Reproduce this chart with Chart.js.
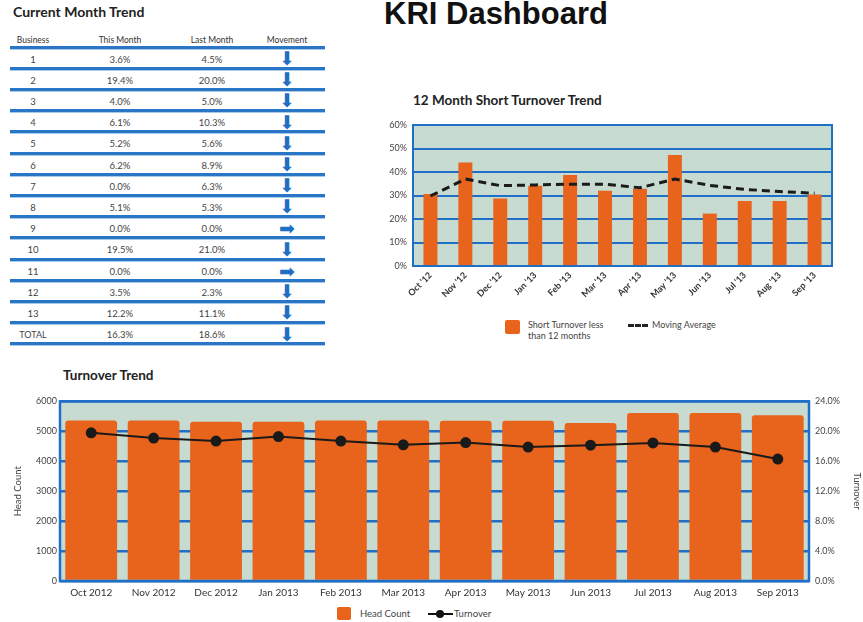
<!DOCTYPE html>
<html>
<head>
<meta charset="utf-8">
<title>KRI Dashboard</title>
<script src="https://cdn.jsdelivr.net/npm/chart.js@4/dist/chart.umd.min.js"></script>
<style>
  body { margin:0; width:863px; height:622px; background:#fff; position:relative; overflow:hidden;
         font-family:Lato,"Open Sans",sans-serif; color:#333; }
  .abs { position:absolute; white-space:nowrap; }
  .title { font-weight:bold; font-size:13.5px; line-height:1; color:#222; }
  #main { left:384px; top:-2px; font:bold 31px/31px "Liberation Sans",Arial,sans-serif; color:#111; }
  .cell { position:absolute; width:70px; margin-left:-35px; text-align:center; font-size:9.5px; color:#444; }
  .row { position:absolute; left:10px; width:315px; border-top:3px solid #2a76c6; box-shadow:0 1px 0 #a9c9e8; }
  .arrow { position:absolute; width:30px; margin-left:-15px; text-align:center; color:#1f6fc2;
           font-family:"DejaVu Sans",sans-serif; }
  .lg { font-size:9px; color:#444; line-height:11px; }
  .swatch { position:absolute; background:#e8631b; border-radius:2px; }
</style>
</head>
<body>
<div class="abs title" style="left:13px;top:5px;font-size:14px;">Current Month Trend</div>
<div class="abs" id="main">KRI Dashboard</div>
<div id="table"></div>

<div class="abs title" style="left:413px;top:94px;">12 Month Short Turnover Trend</div>
<canvas id="shortChart" class="abs" style="left:370px;top:110px;" width="480" height="200"></canvas>
<div class="swatch" style="left:505px;top:320px;width:15px;height:14px;"></div>
<div class="abs lg" style="left:528px;top:319px;">Short Turnover less<br>than 12 months</div>
<div class="abs" style="left:628px;top:324px;width:20px;border-top:3px dashed #222;"></div>
<div class="abs lg" style="left:652px;top:319px;">Moving Average</div>

<div class="abs title" style="left:63px;top:369px;">Turnover Trend</div>
<canvas id="trendChart" class="abs" style="left:0;top:390px;" width="863" height="212"></canvas>
<div class="swatch" style="left:337px;top:607px;width:14px;height:13px;"></div>
<div class="abs lg" style="left:360px;top:608px;font-size:9.5px;">Head Count</div>
<div class="abs" style="left:428px;top:613px;width:25px;border-top:2px solid #111;"></div>
<div class="abs" style="left:436px;top:610px;width:8px;height:8px;border-radius:50%;background:#111;"></div>
<div class="abs lg" style="left:454px;top:608px;font-size:9.5px;">Turnover</div>

<script>
// ---- Current month table ----
const businesses = ['1','2','3','4','5','6','7','8','9','10','11','12','13','TOTAL'];
const thisMonth  = ['3.6%','19.4%','4.0%','6.1%','5.2%','6.2%','0.0%','5.1%','0.0%','19.5%','0.0%','3.5%','12.2%','16.3%'];
const lastMonth  = ['4.5%','20.0%','5.0%','10.3%','5.6%','8.9%','6.3%','5.3%','0.0%','21.0%','0.0%','2.3%','11.1%','18.6%'];
const movement   = ['down','down','down','down','down','down','down','down','flat','down','flat','down','down','down'];
const tableHeaders = ['Business','This Month','Last Month','Movement'];

// ---- 12 month short turnover ----
const shortMonths   = ["Oct '12","Nov '12","Dec '12","Jan '13","Feb '13","Mar '13","Apr '13","May '13","Jun '13","Jul '13","Aug '13","Sep '13"];
const shortTurnover = [30.6, 44, 28.7, 34.1, 38.7, 32, 32.9, 47.2, 22.3, 27.7, 27.7, 30.4];
const movingAverage = [29.8, 37, 34.2, 34.5, 34.8, 34.8, 33.3, 37, 34.3, 32.6, 31.7, 31];
const shortTicks    = [0, 10, 20, 30, 40, 50, 60];

// ---- Turnover trend ----
const trendMonths = ['Oct 2012','Nov 2012','Dec 2012','Jan 2013','Feb 2013','Mar 2013','Apr 2013','May 2013','Jun 2013','Jul 2013','Aug 2013','Sep 2013'];
const headCount   = [5365, 5365, 5320, 5320, 5365, 5365, 5350, 5350, 5275, 5615, 5615, 5540];
const turnoverPct = [19.8, 19.1, 18.7, 19.3, 18.7, 18.2, 18.5, 17.9, 18.15, 18.45, 17.9, 16.3];

// build the table
const colX = [33, 120, 212, 287];
const tbl = document.getElementById('table');
const rowTop = 47, rowH = 21.2;
tableHeaders.forEach((h, i) => {
  const d = document.createElement('div');
  d.className = 'cell';
  d.style.cssText = `left:${colX[i]}px;top:34px;font-size:8.5px;color:#333;line-height:13px;`;
  d.textContent = h;
  tbl.appendChild(d);
});
businesses.forEach((b, r) => {
  const top = rowTop + r * rowH;
  const line = document.createElement('div');
  line.className = 'row';
  line.style.top = (top - 1.5) + 'px';
  line.style.height = '0';
  tbl.appendChild(line);
  [b, thisMonth[r], lastMonth[r]].forEach((t, c) => {
    const d = document.createElement('div');
    d.className = 'cell';
    d.style.cssText = `left:${colX[c]}px;top:${top + 1.5}px;line-height:${rowH}px;` + (c === 0 && b === 'TOTAL' ? 'font-size:9px;' : '');
    d.textContent = t;
    tbl.appendChild(d);
  });
  const a = document.createElement('div');
  a.className = 'arrow';
  if (movement[r] === 'down') {
    a.style.cssText = `left:${colX[3]}px;top:${top + 1}px;line-height:${rowH}px;font-size:19px;`;
    a.textContent = '\u2B07';
  } else {
    a.style.cssText = `left:${colX[3]}px;top:${top + 1.5}px;line-height:${rowH}px;font-size:19px;`;
    a.textContent = '\u27A1';
  }
  tbl.appendChild(a);
});
const lastLine = document.createElement('div');
lastLine.className = 'row';
lastLine.style.top = (rowTop + businesses.length * rowH - 1.5) + 'px';
tbl.appendChild(lastLine);

// plot area fill and frame
const plotFrame = {
  id: 'plotFrame',
  beforeDraw(chart, args, o) {
    const { ctx, chartArea: a } = chart;
    ctx.save();
    ctx.fillStyle = o.fill;
    ctx.fillRect(a.left, a.top, a.width, a.height);
    ctx.restore();
  },
  afterDraw(chart, args, o) {
    const { ctx, chartArea: a } = chart;
    ctx.save();
    ctx.strokeStyle = o.stroke;
    ctx.lineWidth = o.width;
    ctx.strokeRect(a.left, a.top, a.width, a.height);
    ctx.restore();
  }
};

const BLUE = '#1f6fc6';
const ORANGE = '#e8631b';
const PLOT_BG = '#c7dbd0';
Chart.defaults.font.family = 'Lato, "Open Sans", sans-serif';
Chart.defaults.color = '#444';

new Chart(document.getElementById('shortChart'), {
  type: 'bar',
  data: {
    labels: shortMonths,
    datasets: [
      { type: 'line', label: 'Moving Average', data: movingAverage, borderColor: '#1b1b1b',
        borderWidth: 3, borderDash: [8, 5], pointRadius: 0, tension: 0, fill: false, order: 0 },
      { type: 'bar', label: 'Short Turnover less than 12 months', data: shortTurnover,
        backgroundColor: ORANGE, barPercentage: 0.4, categoryPercentage: 1, order: 1 }
    ]
  },
  options: {
    responsive: false, animation: false,
    layout: { padding: { top: 15, right: 18, left: 0, bottom: 0 } },
    plugins: { legend: { display: false }, tooltip: { enabled: false },
               plotFrame: { fill: PLOT_BG, stroke: BLUE, width: 2 } },
    scales: {
      x: { grid: { display: false, drawTicks: false }, border: { display: false },
           ticks: { minRotation: 45, maxRotation: 45, padding: 4, color: '#333',
                    font: { size: 9, weight: 'bold' } },
           afterFit(s) { s.height = 44; } },
      y: { min: 0, max: 60, afterBuildTicks(s) { s.ticks = shortTicks.map(v => ({ value: v })); },
           ticks: { callback: v => v + '%', padding: 6, color: '#444', font: { size: 9 } },
           grid: { color: BLUE, lineWidth: 2, drawTicks: false }, border: { display: false },
           afterFit(s) { s.width = 43; } }
    }
  },
  plugins: [plotFrame]
});

new Chart(document.getElementById('trendChart'), {
  type: 'bar',
  data: {
    labels: trendMonths,
    datasets: [
      { type: 'line', label: 'Turnover', data: turnoverPct, yAxisID: 'y1', borderColor: '#1a1a1a',
        backgroundColor: '#1a1a1a', borderWidth: 2, pointRadius: 4.5, tension: 0, order: 0 },
      { type: 'bar', label: 'Head Count', data: headCount, yAxisID: 'y', backgroundColor: ORANGE,
        barPercentage: 0.83, categoryPercentage: 1, borderRadius: { topLeft: 3, topRight: 3 },
        borderSkipped: 'bottom', order: 1 }
    ]
  },
  options: {
    responsive: false, animation: false,
    layout: { padding: { top: 9, right: 0, left: 0, bottom: 0 } },
    plugins: { legend: { display: false }, tooltip: { enabled: false },
               plotFrame: { fill: PLOT_BG, stroke: BLUE, width: 2.5 } },
    scales: {
      x: { grid: { display: false, drawTicks: false }, border: { display: false },
           ticks: { padding: 6, color: '#333', font: { size: 10 } },
           afterFit(s) { s.height = 21; } },
      y: { position: 'left', min: 0, max: 6000,
           ticks: { stepSize: 1000, padding: 3, color: '#444', font: { size: 9 }, callback: v => String(v) },
           grid: { color: BLUE, lineWidth: 2.5, drawTicks: false }, border: { display: false },
           title: { display: true, text: 'Head Count', color: '#444', font: { size: 9.5 },
                    padding: { top: 12, bottom: 0 } },
           afterFit(s) { s.width = 60; } },
      y1: { position: 'right', min: 0, max: 24,
            ticks: { stepSize: 4, padding: 6, color: '#444', font: { size: 9 },
                     callback: v => v.toFixed(1) + '%' },
            grid: { display: false, drawTicks: false }, border: { display: false },
            title: { display: true, text: 'Turnover', color: '#444', font: { size: 9.5 },
                     padding: { top: 0, bottom: 0 } },
            afterFit(s) { s.width = 54; } }
    }
  },
  plugins: [plotFrame]
});
</script>
</body>
</html>
